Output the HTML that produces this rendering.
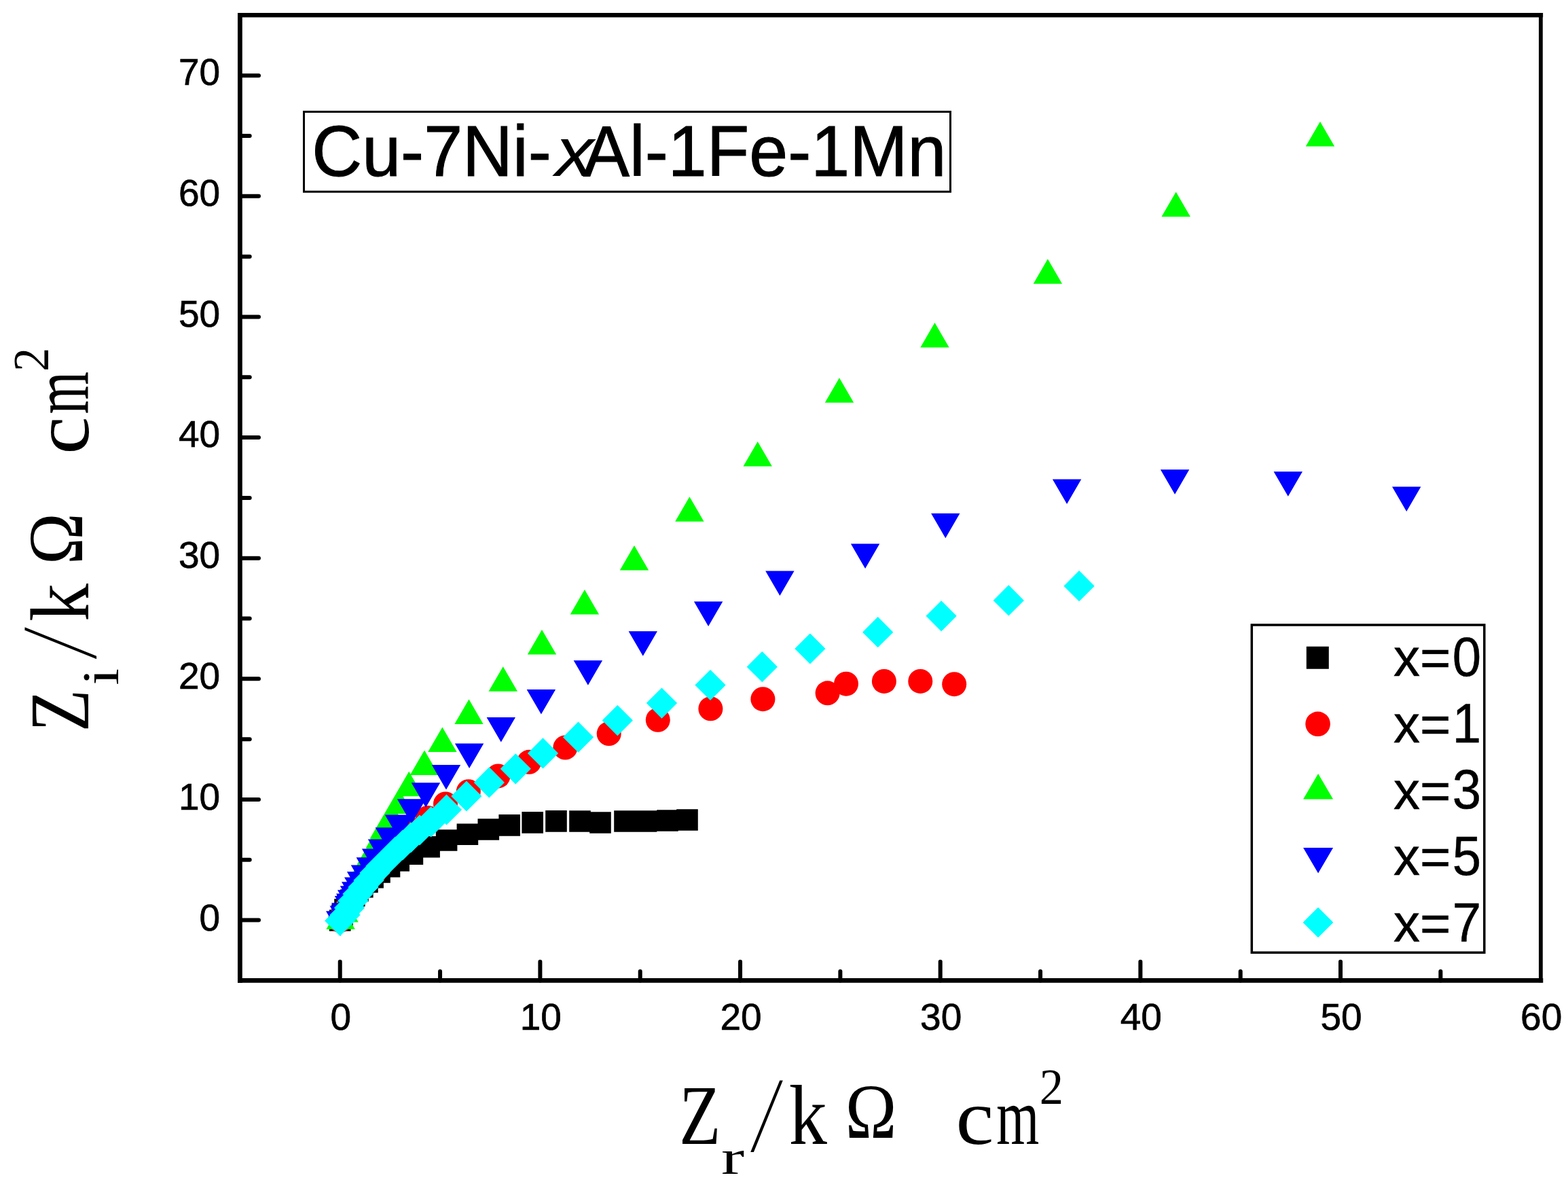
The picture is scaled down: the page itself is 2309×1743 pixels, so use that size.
<!DOCTYPE html><html><head><meta charset="utf-8"><style>html,body{margin:0;padding:0;background:#fff;}svg{display:block;}</style></head><body>
<svg width="2309" height="1743" viewBox="0 0 2309 1743">
<rect width="2309" height="1743" fill="#fff"/>
<g>
<path fill="#000" d="M484.9 1339.2h31.6v31.6h-31.6zM488.2 1331.2h31.6v31.6h-31.6zM492.2 1323.2h31.6v31.6h-31.6zM496.2 1316.2h31.6v31.6h-31.6zM501.2 1309.2h31.6v31.6h-31.6zM506 1302.9h31.6v31.6h-31.6zM511.2 1295.7h31.6v31.6h-31.6zM518 1289.9h31.6v31.6h-31.6zM525.1 1282.7h31.6v31.6h-31.6zM533.3 1276h31.6v31.6h-31.6zM543.2 1268.1h31.6v31.6h-31.6zM557.7 1259.9h31.6v31.6h-31.6zM571.4 1251.1h31.6v31.6h-31.6zM591.6 1241.4h31.6v31.6h-31.6zM616.3 1230.9h31.6v31.6h-31.6zM641.8 1221.2h31.6v31.6h-31.6zM672.6 1212.4h31.6v31.6h-31.6zM703.5 1205.2h31.6v31.6h-31.6zM734.4 1199.1h31.6v31.6h-31.6zM768.4 1195.1h31.6v31.6h-31.6zM803.2 1193.1h31.6v31.6h-31.6zM838.2 1193.2h31.6v31.6h-31.6zM868.2 1195.2h31.6v31.6h-31.6zM904.2 1193.2h31.6v31.6h-31.6zM935.7 1193.2h31.6v31.6h-31.6zM967.2 1192.2h31.6v31.6h-31.6zM996.2 1191.2h31.6v31.6h-31.6z"/>
<g fill="#f00"><circle cx="500.7" cy="1355" r="18.0"/><circle cx="505.5" cy="1344.5" r="18.0"/><circle cx="511.5" cy="1335.5" r="18.0"/><circle cx="518.5" cy="1326.5" r="18.0"/><circle cx="525.5" cy="1316.5" r="18.0"/><circle cx="532.5" cy="1306.5" r="18.0"/><circle cx="540.5" cy="1295.5" r="18.0"/><circle cx="551" cy="1285" r="18.0"/><circle cx="562" cy="1271" r="18.0"/><circle cx="575" cy="1256" r="18.0"/><circle cx="590" cy="1239" r="18.0"/><circle cx="615" cy="1222" r="18.0"/><circle cx="630" cy="1204" r="18.0"/><circle cx="656" cy="1183.5" r="18.0"/><circle cx="689.8" cy="1165.2" r="18.0"/><circle cx="733.5" cy="1142.4" r="18.0"/><circle cx="779.1" cy="1121.8" r="18.0"/><circle cx="832.4" cy="1100.5" r="18.0"/><circle cx="896.7" cy="1080.1" r="18.0"/><circle cx="968.8" cy="1059.8" r="18.0"/><circle cx="1046.4" cy="1043.3" r="18.0"/><circle cx="1123.4" cy="1029.2" r="18.0"/><circle cx="1218.6" cy="1020.3" r="18.0"/><circle cx="1246" cy="1006.7" r="18.0"/><circle cx="1301.9" cy="1002.9" r="18.0"/><circle cx="1355.3" cy="1002.9" r="18.0"/><circle cx="1405.2" cy="1007.2" r="18.0"/></g>
<path fill="#0f0" d="M501.6 1331.5L522.8 1368L480.4 1368zM506.5 1321L527.7 1357.5L485.3 1357.5zM508.5 1309L529.7 1345.5L487.3 1345.5zM514 1298L535.2 1334.5L492.8 1334.5zM519.8 1287L541 1323.5L498.6 1323.5zM525.5 1276L546.7 1312.5L504.3 1312.5zM531 1266L552.2 1302.5L509.8 1302.5zM536.3 1256L557.5 1292.5L515.1 1292.5zM541.7 1246L562.9 1282.5L520.5 1282.5zM547 1235.7L568.2 1272.2L525.8 1272.2zM553.6 1224.5L574.8 1261L532.4 1261zM560.1 1211.6L581.3 1248.1L538.9 1248.1zM565.8 1198.2L587 1234.7L544.6 1234.7zM576 1180.9L597.2 1217.4L554.8 1217.4zM587.2 1161.5L608.4 1198L566 1198zM602.2 1135.7L623.4 1172.2L581 1172.2zM625 1104.4L646.2 1140.9L603.8 1140.9zM651.4 1070.4L672.6 1106.9L630.2 1106.9zM690.5 1029.4L711.7 1065.9L669.3 1065.9zM740.8 981.2L762 1017.7L719.6 1017.7zM798 927.1L819.2 963.6L776.8 963.6zM860.9 868L882.1 904.5L839.7 904.5zM934 803L955.2 839.5L912.8 839.5zM1015.4 731.3L1036.6 767.8L994.2 767.8zM1115.7 650.1L1136.9 686.6L1094.5 686.6zM1236 556.3L1257.2 592.8L1214.8 592.8zM1376.5 475.1L1397.7 511.6L1355.3 511.6zM1542.9 381.3L1564.1 417.8L1521.7 417.8zM1731.7 282.4L1752.9 318.9L1710.5 318.9zM1944 179L1965.2 215.5L1922.8 215.5z"/>
<path fill="#00f" d="M480 1341.2L522.4 1341.2L501.2 1377.7zM485.6 1333.5L528 1333.5L506.8 1370zM488 1329.2L530.4 1329.2L509.2 1365.7zM492.8 1319.1L535.2 1319.1L514 1355.6zM495 1315.4L537.4 1315.4L516.2 1351.9zM497 1310.3L539.4 1310.3L518.2 1346.8zM500.8 1304.2L543.2 1304.2L522 1340.7zM503 1298.3L545.4 1298.3L524.2 1334.8zM507 1291.4L549.4 1291.4L528.2 1327.9zM510.9 1283.3L553.3 1283.3L532.1 1319.8zM516.7 1273.4L559.1 1273.4L537.9 1309.9zM524.6 1262.3L567 1262.3L545.8 1298.8zM532.9 1249.5L575.3 1249.5L554.1 1286zM541.8 1235.4L584.2 1235.4L563 1271.9zM552.6 1218.2L595 1218.2L573.8 1254.7zM566.8 1199.4L609.2 1199.4L588 1235.9zM584.8 1176.3L627.2 1176.3L606 1212.8zM605.8 1152.3L648.2 1152.3L627 1188.8zM635.8 1126.1L678.2 1126.1L657 1162.6zM669.9 1094.6L712.3 1094.6L691.1 1131.1zM716.6 1056L759 1056L737.8 1092.5zM775.7 1015.1L818.1 1015.1L796.9 1051.6zM844.7 972.2L887.1 972.2L865.9 1008.7zM925.6 929.2L968 929.2L946.8 965.7zM1021.9 885.5L1064.3 885.5L1043.1 922zM1127.2 840.4L1169.6 840.4L1148.4 876.9zM1252.9 800.6L1295.3 800.6L1274.1 837.1zM1371.1 755.7L1413.5 755.7L1392.3 792.2zM1549.9 705.5L1592.3 705.5L1571.1 742zM1708.9 691.2L1751.3 691.2L1730.1 727.7zM1875.6 694.3L1918 694.3L1896.8 730.8zM2050 716.5L2092.4 716.5L2071.2 753z"/>
<path fill="#0ff" d="M500.7 1332.9L523.3 1355.5L500.7 1378.1L478.1 1355.5zM508 1324.4L530.6 1347L508 1369.6L485.4 1347zM514.5 1313.9L537.1 1336.5L514.5 1359.1L491.9 1336.5zM520 1303.4L542.6 1326L520 1348.6L497.4 1326zM527 1293.4L549.6 1316L527 1338.6L504.4 1316zM535 1283.4L557.6 1306L535 1328.6L512.4 1306zM543 1273.4L565.6 1296L543 1318.6L520.4 1296zM552 1262.4L574.6 1285L552 1307.6L529.4 1285zM561 1252.4L583.6 1275L561 1297.6L538.4 1275zM571 1242.4L593.6 1265L571 1287.6L548.4 1265zM582 1231.4L604.6 1254L582 1276.6L559.4 1254zM593 1221.4L615.6 1244L593 1266.6L570.4 1244zM605 1210.4L627.6 1233L605 1255.6L582.4 1233zM618 1199.4L640.6 1222L618 1244.6L595.4 1222zM634.7 1187.2L657.3 1209.8L634.7 1232.4L612.1 1209.8zM657.5 1169.4L680.1 1192L657.5 1214.6L634.9 1192zM686.9 1149.4L709.5 1172L686.9 1194.6L664.3 1172zM720.4 1129.3L743 1151.9L720.4 1174.5L697.8 1151.9zM759.3 1109.2L781.9 1131.8L759.3 1154.4L736.7 1131.8zM799.5 1086.3L822.1 1108.9L799.5 1131.5L776.9 1108.9zM851.5 1062.6L874.1 1085.2L851.5 1107.8L828.9 1085.2zM909.3 1038L931.9 1060.6L909.3 1083.2L886.7 1060.6zM974.5 1012.5L997.1 1035.1L974.5 1057.7L951.9 1035.1zM1046 985.9L1068.6 1008.5L1046 1031.1L1023.4 1008.5zM1122.3 959.1L1144.9 981.7L1122.3 1004.3L1099.7 981.7zM1192.9 932.4L1215.5 955L1192.9 977.6L1170.3 955zM1292.7 908.1L1315.3 930.7L1292.7 953.3L1270.1 930.7zM1386.1 884.2L1408.7 906.8L1386.1 929.4L1363.5 906.8zM1485.3 861.3L1507.9 883.9L1485.3 906.5L1462.7 883.9zM1589.1 840.1L1611.7 862.7L1589.1 885.3L1566.5 862.7z"/>
</g>
<g stroke="#000" fill="none" stroke-linecap="square">
<line x1="353.4" y1="22.3" x2="353.4" y2="1443.4" stroke-width="6.8"/>
<line x1="2268.9" y1="22.3" x2="2268.9" y2="1443.4" stroke-width="5.8"/>
<line x1="353.4" y1="22.3" x2="2268.9" y2="22.3" stroke-width="6.5"/>
<line x1="353.4" y1="1443.4" x2="2268.9" y2="1443.4" stroke-width="6.8"/>
</g>
<g stroke="#000" stroke-width="6" stroke-linecap="round">
<line x1="500.73" y1="1443.4" x2="500.73" y2="1415.8"/>
<line x1="648.06" y1="1443.4" x2="648.06" y2="1430"/>
<line x1="795.39" y1="1443.4" x2="795.39" y2="1415.8"/>
<line x1="942.72" y1="1443.4" x2="942.72" y2="1430"/>
<line x1="1090.05" y1="1443.4" x2="1090.05" y2="1415.8"/>
<line x1="1237.38" y1="1443.4" x2="1237.38" y2="1430"/>
<line x1="1384.71" y1="1443.4" x2="1384.71" y2="1415.8"/>
<line x1="1532.04" y1="1443.4" x2="1532.04" y2="1430"/>
<line x1="1679.37" y1="1443.4" x2="1679.37" y2="1415.8"/>
<line x1="1826.7" y1="1443.4" x2="1826.7" y2="1430"/>
<line x1="1974.03" y1="1443.4" x2="1974.03" y2="1415.8"/>
<line x1="2121.36" y1="1443.4" x2="2121.36" y2="1430"/>
<line x1="353.4" y1="1354.59" x2="381" y2="1354.59"/>
<line x1="353.4" y1="1265.78" x2="367.7" y2="1265.78"/>
<line x1="353.4" y1="1176.96" x2="381" y2="1176.96"/>
<line x1="353.4" y1="1088.15" x2="367.7" y2="1088.15"/>
<line x1="353.4" y1="999.34" x2="381" y2="999.34"/>
<line x1="353.4" y1="910.53" x2="367.7" y2="910.53"/>
<line x1="353.4" y1="821.71" x2="381" y2="821.71"/>
<line x1="353.4" y1="732.9" x2="367.7" y2="732.9"/>
<line x1="353.4" y1="644.09" x2="381" y2="644.09"/>
<line x1="353.4" y1="555.28" x2="367.7" y2="555.28"/>
<line x1="353.4" y1="466.46" x2="381" y2="466.46"/>
<line x1="353.4" y1="377.65" x2="367.7" y2="377.65"/>
<line x1="353.4" y1="288.84" x2="381" y2="288.84"/>
<line x1="353.4" y1="200.03" x2="367.7" y2="200.03"/>
<line x1="353.4" y1="111.21" x2="381" y2="111.21"/>
</g>
<g font-family="Liberation Sans, Arial, sans-serif" font-size="55" fill="#000" stroke="#000" stroke-width="0.7">
<text x="501.73" y="1516.2" text-anchor="middle">0</text>
<text x="796.39" y="1516.2" text-anchor="middle">10</text>
<text x="1091.05" y="1516.2" text-anchor="middle">20</text>
<text x="1385.71" y="1516.2" text-anchor="middle">30</text>
<text x="1680.37" y="1516.2" text-anchor="middle">40</text>
<text x="1975.03" y="1516.2" text-anchor="middle">50</text>
<text x="2269.69" y="1516.2" text-anchor="middle">60</text>
<text x="324.2" y="1370.3" text-anchor="end">0</text>
<text x="324.2" y="1192" text-anchor="end">10</text>
<text x="324.2" y="1014.3" text-anchor="end">20</text>
<text x="324.2" y="835.6" text-anchor="end">30</text>
<text x="324.2" y="658.3" text-anchor="end">40</text>
<text x="324.2" y="481.4" text-anchor="end">50</text>
<text x="324.2" y="303.4" text-anchor="end">60</text>
<text x="324.2" y="125.4" text-anchor="end">70</text>
</g>
<g font-family="Liberation Serif, Times New Roman, serif" fill="#000">
<g transform="translate(1005 1684)"><text transform="matrix(1.9436 0 0 1.6339 97.00 11.50)" font-size="100" stroke="#fff" stroke-width="4.2" vector-effect="non-scaling-stroke">/</text><text transform="matrix(0.9994 0 0 1.2554 -4.78 0.00)" font-size="100">Z</text><text transform="matrix(1.0256 0 0 0.7237 56.95 44.10)" font-size="100">r</text><text transform="matrix(1.1228 0 0 1.2395 156.86 0.00)" font-size="100">k</text><text transform="matrix(1.0177 0 0 1.1539 239.83 -8.80)" font-size="100">Ω</text><text transform="matrix(1.2587 0 0 1.1581 402.61 -0.23)" font-size="100">c</text><text transform="matrix(0.8108 0 0 1.1821 462.20 -0.10)" font-size="100">m</text><text transform="matrix(0.7059 0 0 0.7416 525.70 -59.10)" font-size="100">2</text></g>
<g transform="translate(129.8 1072.1) rotate(-90)"><text transform="matrix(1.9220 0 0 1.6354 98.60 11.80)" font-size="100" stroke="#fff" stroke-width="4.2" vector-effect="non-scaling-stroke">/</text><text transform="matrix(1.0112 0 0 1.2493 -4.84 0.00)" font-size="100">Z</text><text transform="matrix(0.8831 0 0 0.7537 63.55 44.40)" font-size="100">i</text><text transform="matrix(1.1165 0 0 1.2351 157.47 0.00)" font-size="100">k</text><text transform="matrix(1.0193 0 0 1.1539 241.02 -8.60)" font-size="100">Ω</text><text transform="matrix(1.2480 0 0 1.1727 403.45 0.05)" font-size="100">c</text><text transform="matrix(0.8041 0 0 1.1970 462.51 0.60)" font-size="100">m</text><text transform="matrix(0.6960 0 0 0.7385 525.24 -58.90)" font-size="100">2</text></g>
</g>
<rect x="447.5" y="164.5" width="952" height="117.7" fill="none" stroke="#000" stroke-width="3"/>
<text font-family="Liberation Sans, Arial, sans-serif" font-size="102.4" y="259" fill="#000" stroke="#000" stroke-width="1" transform="matrix(1 0 0 1.035 0 -9.065)"><tspan x="459.2">Cu-7Ni-</tspan><tspan x="858.7">Al-1Fe-1Mn</tspan></text>
<g font-family="Liberation Sans, Arial, sans-serif" font-style="italic" fill="#000"><text transform="matrix(1.1329 0 0 1.0145 817.64 259.00)" font-size="100">x</text></g>
<rect x="1843.3" y="920" width="342.5" height="482.3" fill="#fff" stroke="#000" stroke-width="3.5"/>
<path fill="#000" d="M1923.8 951.8h33v33h-33z"/>
<circle cx="1940.6" cy="1065.8" r="18.3" fill="#f00"/>
<path fill="#0f0" d="M1941.1 1139.1L1963.1 1176.5L1919.1 1176.5z"/>
<path fill="#00f" d="M1919.1 1248.1L1963.1 1248.1L1941.1 1285.5z"/>
<path fill="#0ff" d="M1941 1335.7L1963.3 1358L1941 1380.3L1918.7 1358z"/>
<g font-family="Liberation Sans, Arial, sans-serif" font-size="78" fill="#000" stroke="#000" stroke-width="0.5">
<text x="2052" y="995">x=</text>
<text transform="matrix(0.976 0 0 1.05 2138.70 -49.750)" x="0" y="995">0</text>
<text x="2052" y="1092.9">x=</text>
<text transform="matrix(0.976 0 0 1.05 2138.70 -54.645)" x="0" y="1092.9">1</text>
<text x="2052" y="1190.5">x=</text>
<text transform="matrix(0.976 0 0 1.05 2138.70 -59.525)" x="0" y="1190.5">3</text>
<text x="2052" y="1287.7">x=</text>
<text transform="matrix(0.976 0 0 1.05 2138.70 -64.385)" x="0" y="1287.7">5</text>
<text x="2052" y="1385.8">x=</text>
<text transform="matrix(0.976 0 0 1.05 2138.70 -69.290)" x="0" y="1385.8">7</text>
</g>
</svg></body></html>
